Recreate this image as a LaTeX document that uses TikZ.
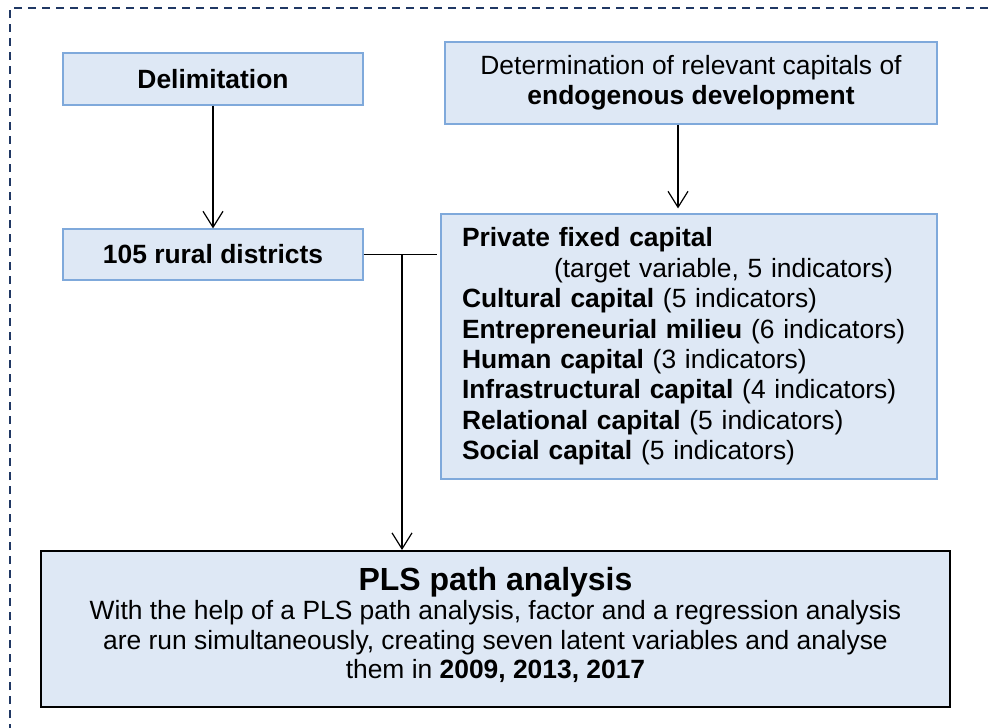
\documentclass[tikz,border=0pt]{standalone}
\usepackage{fontspec}
\setmainfont{Liberation Sans}
\usetikzlibrary{arrows.meta,calc}
\definecolor{boxfill}{HTML}{DEE8F5}
\definecolor{boxline}{HTML}{7FA9DB}
\definecolor{framenavy}{HTML}{203864}

\begin{document}
\begin{tikzpicture}[x=0.5pt,y=-0.5pt,
  box/.style={draw=boxline,fill=boxfill,line width=0.6pt,inner sep=0pt,font=\fontsize{13.2}{15.2}\selectfont},
  arr/.style={-{Straight Barb[length=8pt,width=10pt]},line width=0.6pt,black}]
\useasboundingbox (0,0) rectangle (988,727);
\clip (0,0) rectangle (988,727);
\draw[framenavy][line width=1pt,dash pattern=on 4pt off 3pt](10,760)--(10,8)--(1010,8);
\node (delim) at (213,79) [box][minimum width=150pt,minimum height=26pt]{\bfseries Delimitation};
\node (det) at (691,83) [box][minimum width=246pt,minimum height=41pt,align=center]{Determination of relevant capitals of\\\textbf{endogenous development}};
\node (rural) at (213,254.5) [box][minimum width=150pt,minimum height=25.5pt]{\bfseries 105 rural districts};
\node (caps) at (689,346.5) [box][minimum height=132.5pt,inner xsep=10.5pt,text width=227pt,align=left]{\textbf{Private fixed capital}\\
\hspace*{46pt}(target variable, 5 indicators)\\
\textbf{Cultural capital} (5 indicators)\\
\textbf{Entrepreneurial milieu} (6 indicators)\\
\textbf{Human capital} (3 indicators)\\
\textbf{Infrastructural capital} (4 indicators)\\
\textbf{Relational capital} (5 indicators)\\
\textbf{Social capital} (5 indicators)};
\node (pls) at (495.5,629) [box][draw=black,line width=1pt,minimum width=454.5pt,minimum height=78pt,align=center,font=\fontsize{13.2}{14.7}\selectfont]{{\fontsize{16}{19}\selectfont\bfseries PLS path analysis}\\
With the help of a PLS path analysis, factor and a regression analysis\\
are run simultaneously, creating seven latent variables and analyse\\
them in \textbf{2009, 2013, 2017}\rule[-6pt]{0pt}{1pt}};
\draw[arr](delim)--(rural);
\draw[arr][shorten >=2.5pt]([xshift=-6.5pt]det.south)--([xshift=-6.5pt]det.south |- caps.north);
\draw[line width=0.6pt](rural.east)--([xshift=-1.5pt]caps.west |- rural.east);
\coordinate (split) at ($(rural.east)!0.5!(caps.west |- rural.east)$);
\draw[arr](split)--(split |- pls.north);
\end{tikzpicture}
\end{document}
